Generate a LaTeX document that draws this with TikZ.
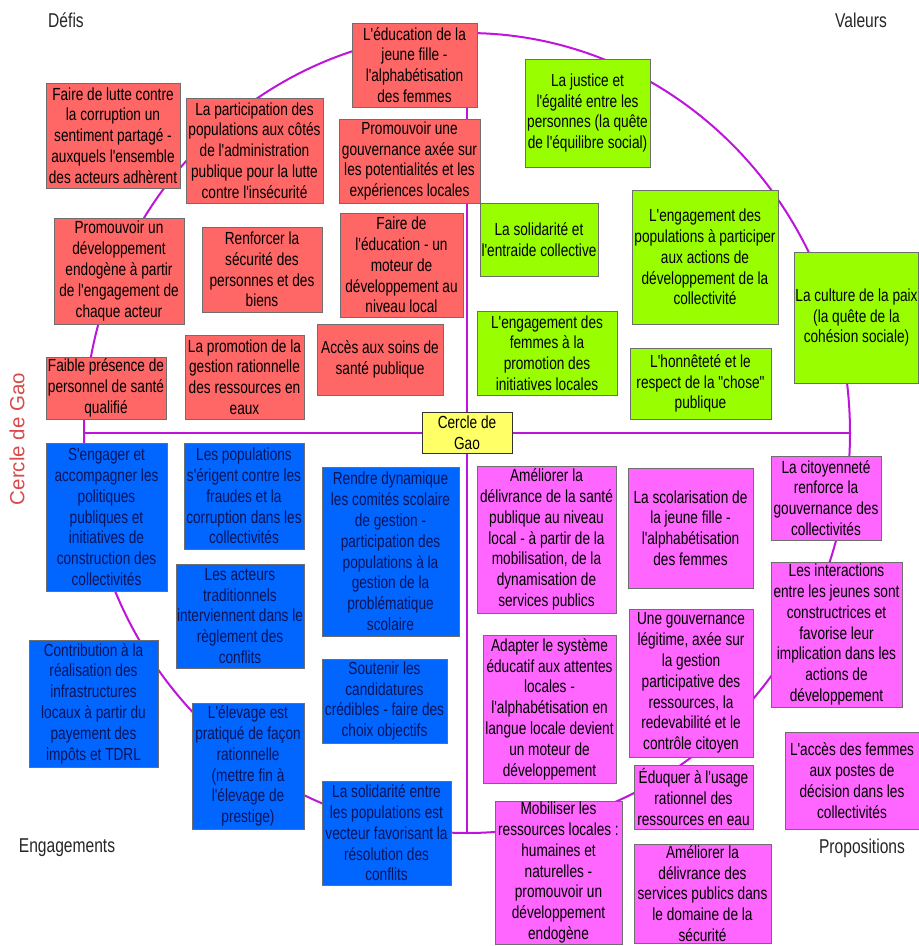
\documentclass[tikz,border=0pt]{standalone}
\usepackage{fontspec}
\setmainfont{Liberation Sans}[FakeStretch=0.78,Ligatures=TeXOff]
\newfontfamily\plainfont{Liberation Sans}
\usetikzlibrary{backgrounds}
\definecolor{rougeD}{RGB}{255,102,102}
\definecolor{vertV}{RGB}{153,255,0}
\definecolor{bleuE}{RGB}{0,102,255}
\definecolor{roseP}{RGB}{255,102,255}
\definecolor{jauneG}{RGB}{255,255,102}
\definecolor{violet1}{RGB}{190,20,220}
\definecolor{bord}{RGB}{110,110,110}
\definecolor{rougeT}{RGB}{215,75,75}
\definecolor{marine}{RGB}{10,20,90}

\begin{document}
\begin{tikzpicture}[x=1pt,y=-1pt,
  boite/.style={rectangle,draw=bord,line width=0.9pt,inner sep=1pt,align=center,
    font=\fontsize{17.5}{20.8}\selectfont},
  defi/.style={boite,fill=rougeD},
  valeur/.style={boite,fill=vertV},
  engag/.style={boite,fill=bleuE,text=marine},
  propo/.style={boite,fill=roseP},
  coin/.style={font=\fontsize{20}{24}\selectfont,text=black!85},
  trait/.style={violet1,line width=2pt}]

\useasboundingbox (0,0) rectangle (919,946);

\def\cx{467}
\def\cy{433}
\coordinate (o) at (\cx,\cy);
\coordinate (bas) at (\cx,833);
\coordinate (gauche) at (84,\cy);
\coordinate (droite) at (850,\cy);

% coins
\node[coin] (defis) at (66,20) {Défis};
\node[coin] (valeurs) at (861,20) {Valeurs};
\node[coin] (engagements) at (67,848) {Engagements};
\node[coin] (propositions) at (862,848) {Propositions};
\node[rotate=90,text=rougeT,font=\plainfont\fontsize{20.5}{24}\selectfont] (cercle) at (17,439) {Cercle de Gao};

\node[boite,fill=jauneG,draw=black!80,minimum width=90,minimum height=41] (gao) at (o) {Cercle de\\Gao};

% defis
\node[defi,minimum width=125,minimum height=84] (edu) at (414.5,65) {L'éducation de la\\jeune fille -\\l'alphabétisation\\des femmes};
\node[defi,minimum width=134,minimum height=105] (corrup) at (113,135.5) {Faire de lutte contre\\la corruption un\\sentiment partagé -\\auxquels l'ensemble\\des acteurs adhèrent};
\node[defi,minimum width=137,minimum height=105] (particip) at (254.5,150.5) {La participation des\\populations aux côtés\\de l'administration\\publique pour la lutte\\contre l'insécurité};
\node[defi,minimum width=141,minimum height=84] (gouv) at (409.5,161) {Promouvoir une\\gouvernance axée sur\\les potentialités et les\\expériences locales};
\node[defi,minimum width=130,minimum height=106] (endog) at (119,271) {Promouvoir un\\développement\\endogène à partir\\de l'engagement de\\chaque acteur};
\node[defi,minimum width=120,minimum height=85] (secur) at (262,269.5) {Renforcer la\\sécurité des\\personnes et des\\biens};
\node[defi,minimum width=123,minimum height=104] (educ) at (401.5,265) {Faire de\\l'éducation - un\\moteur de\\développement au\\niveau local};
\node[defi,minimum width=120,minimum height=62] (faible) at (106,388) {Faible présence de\\personnel de santé\\qualifié};
\node[defi,minimum width=119,minimum height=84] (eaux) at (244.5,377) {La promotion de la\\gestion rationnelle\\des ressources en\\eaux};
\node[defi,minimum width=126,minimum height=71] (soins) at (380,359.5) {Accès aux soins de\\santé publique};

% valeurs
\node[valeur,minimum width=125,minimum height=108] (justice) at (587.5,113) {La justice et\\l'égalité entre les\\personnes (la quête\\de l'équilibre social)};
\node[valeur,minimum width=118,minimum height=73] (solid) at (539,239.5) {La solidarité et\\l'entraide collective};
\node[valeur,minimum width=146,minimum height=134] (engpop) at (705,257) {L'engagement des\\populations à participer\\aux actions de\\développement de la\\collectivité};
\node[valeur,minimum width=140,minimum height=84] (femmes) at (547,353) {L'engagement des\\femmes à la\\promotion des\\initiatives locales};
\node[valeur,minimum width=141,minimum height=71] (honnet) at (700.5,383.5) {L'honnêteté et le\\respect de la "chose"\\publique};
\node[valeur,minimum width=123,minimum height=131] (paix) at (856.5,317.5) {La culture de la paix\\(la quête de la\\cohésion sociale)};

% engagements
\node[engag,minimum width=121,minimum height=148] (sengager) at (106.5,517) {S'engager et\\accompagner les\\politiques\\publiques et\\initiatives de\\construction des\\collectivités};
\node[engag,minimum width=120,minimum height=106] (fraudes) at (244,496) {Les populations\\s'érigent contre les\\fraudes et la\\corruption dans les\\collectivités};
\node[engag,minimum width=128,minimum height=104] (acteurs) at (240,616) {Les acteurs\\traditionnels\\interviennent dans le\\règlement des\\conflits};
\node[engag,minimum width=137,minimum height=169] (comites) at (390.5,551.5) {Rendre dynamique\\les comités scolaire\\de gestion -\\participation des\\populations à la\\gestion de la\\problématique\\scolaire};
\node[engag,minimum width=125,minimum height=84] (candid) at (384.5,701) {Soutenir les\\candidatures\\crédibles - faire des\\choix objectifs};
\node[engag,minimum width=129,minimum height=127] (contrib) at (93.5,703.5) {Contribution à la\\réalisation des\\infrastructures\\locaux à partir du\\payement des\\impôts et TDRL};
\node[engag,minimum width=112,minimum height=126] (elevage) at (248,766) {L'élevage est\\pratiqué de façon\\rationnelle\\(mettre fin à\\l'élevage de\\prestige)};
\node[engag,minimum width=129,minimum height=104] (solpop) at (386.5,833) {La solidarité entre\\les populations est\\vecteur favorisant la\\résolution des\\conflits};

% propositions
\node[propo,minimum width=139,minimum height=147] (sante) at (546.5,539.5) {Améliorer la\\délivrance de la santé\\publique au niveau\\local - à partir de la\\mobilisation, de la\\dynamisation de\\services publics};
\node[propo,minimum width=125,minimum height=120] (scolar) at (690.5,528) {La scolarisation de\\la jeune fille -\\l'alphabétisation\\des femmes};
\node[propo,minimum width=110,minimum height=84] (citoy) at (826,498) {La citoyenneté\\renforce la\\gouvernance des\\collectivités};
\node[propo,minimum width=131,minimum height=145] (jeunes) at (836.5,634.5) {Les interactions\\entre les jeunes sont\\constructrices et\\favorise leur\\implication dans les\\actions de\\développement};
\node[propo,minimum width=124,minimum height=148] (legit) at (691,683) {Une gouvernance\\légitime, axée sur\\la gestion\\participative des\\ressources, la\\redevabilité et le\\contrôle citoyen};
\node[propo,minimum width=133,minimum height=148] (adapter) at (549.5,709) {Adapter le système\\éducatif aux attentes\\locales -\\l'alphabétisation en\\langue locale devient\\un moteur de\\développement};
\node[propo,minimum width=119,minimum height=64] (eau) at (693.5,797) {Éduquer à l'usage\\rationnel des\\ressources en eau};
\node[propo,minimum width=134,minimum height=97] (postes) at (852,780.5) {L'accès des femmes\\aux postes de\\décision dans les\\collectivités};
\node[propo,minimum width=127,minimum height=141] (mobil) at (558.5,872.5) {Mobiliser les\\ressources locales :\\humaines et\\naturelles -\\promouvoir un\\développement\\endogène};
\node[propo,minimum width=137,minimum height=99] (secu) at (702.5,893.5) {Améliorer la\\délivrance des\\services publics dans\\le domaine de la\\sécurité};

\begin{pgfonlayer}{background}
\draw[trait] (o) ellipse [x radius=383, y radius=400];
\draw[trait] (edu.south -| o) -- (bas);
\draw[trait] (gauche) -- (droite);
\end{pgfonlayer}
\end{tikzpicture}
\end{document}
